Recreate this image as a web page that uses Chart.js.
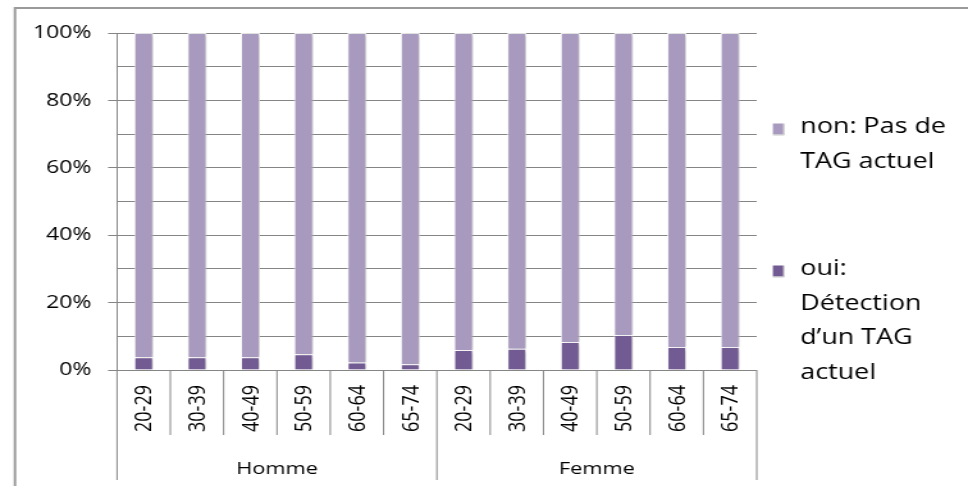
<!DOCTYPE html>
<html>
<head>
<meta charset="utf-8">
<script src="https://cdn.jsdelivr.net/npm/chart.js@4.4.1/dist/chart.umd.min.js"></script>
<style>
  html, body { margin: 0; padding: 0; background: #fff; overflow: hidden; }
  /* the source picture is stretched sideways, so draw narrow and stretch */
  #wrap { width: 756px; height: 486px; transform: scaleX(1.2804); transform-origin: 0 0; }
</style>
</head>
<body>
<div id="wrap"><canvas id="tag-chart"></canvas></div>
<script>
// data (percent)
const ageGroups = ['20-29', '30-39', '40-49', '50-59', '60-64', '65-74'];
const sexGroups = ['Homme', 'Femme'];
const ouiValues = [3.8, 3.8, 3.8, 4.7, 2.2, 1.7, 5.9, 6.3, 8.3, 10.4, 6.8, 6.8];
const nonValues = [96.2, 96.2, 96.2, 95.3, 97.8, 98.3, 94.1, 93.7, 91.7, 89.6, 93.2, 93.2];
const legendLines = [
  ['oui:', 'Détection', 'd’un TAG', 'actuel'],
  ['non: Pas de', 'TAG actuel']
];
const yTicks = [0, 20, 40, 60, 80, 100];

const labels = sexGroups.flatMap(() => ageGroups);
const FONT = '"Open Sans", sans-serif';
const LINE = '#858585';
const TEXT = '#000';

// Frame around the slide picture
const framePlugin = {
  id: 'frame',
  beforeDraw(chart) {
    const c = chart.ctx;
    c.save();
    c.strokeStyle = '#9a9a9a';
    c.lineWidth = 2;
    c.beginPath();
    c.moveTo(11.7, 490);
    c.lineTo(11.7, 8);
    c.lineTo(chart.width + 5, 8);
    c.stroke();
    c.restore();
  }
};

// Soft shadow behind the bars
const shadowPlugin = {
  id: 'barShadow',
  beforeDatasetsDraw(chart) {
    const c = chart.ctx;
    c.save();
    c.shadowColor = 'rgba(0,0,0,0.22)';
    c.shadowBlur = 4;
    c.shadowOffsetX = 2;
    c.shadowOffsetY = 1;
  },
  afterDatasetsDraw(chart) {
    chart.ctx.restore();
  }
};

// Two level category axis under the plot
const groupAxisPlugin = {
  id: 'groupAxis',
  afterDraw(chart) {
    const c = chart.ctx;
    const xs = chart.scales.x;
    const area = chart.chartArea;
    const n = labels.length;
    const per = ageGroups.length;
    const edge = i => i === 0 ? area.left : i === n ? area.right
      : (xs.getPixelForValue(i - 1) + xs.getPixelForValue(i)) / 2;

    c.save();
    c.strokeStyle = LINE;
    c.lineWidth = 1;
    for (let i = 0; i <= n; i++) {
      const x = edge(i);
      c.beginPath();
      c.moveTo(x, area.bottom);
      c.lineTo(x, i % per === 0 ? 480 : 435);
      c.stroke();
    }

    // rotated age labels, clipped at the bottom of their row
    c.beginPath();
    c.rect(area.left, area.bottom, area.right - area.left, 435 - area.bottom);
    c.clip();
    c.fillStyle = TEXT;
    c.font = '18px ' + FONT;
    c.textAlign = 'right';
    c.textBaseline = 'middle';
    labels.forEach((lab, i) => {
      c.save();
      c.translate(xs.getPixelForValue(i) + 1, area.bottom + 15);
      c.rotate(-Math.PI / 2);
      c.fillText(lab, 0, 0);
      c.restore();
    });
    c.restore();

    c.save();
    c.fillStyle = TEXT;
    c.font = '17px ' + FONT;
    c.textAlign = 'center';
    c.textBaseline = 'middle';
    sexGroups.forEach((g, k) => {
      const mid = (edge(k * per) + edge((k + 1) * per)) / 2;
      c.fillText(g, mid, 469);
    });
    c.restore();
  }
};

// Legend on the right, wrapped like the original
const legendPlugin = {
  id: 'wrapLegend',
  afterDraw(chart) {
    const c = chart.ctx;
    const x0 = 603.6;
    const tx = 625;
    const firstBase = [275, 133];
    c.save();
    c.font = '21px ' + FONT;
    c.textBaseline = 'alphabetic';
    c.textAlign = 'left';
    chart.data.datasets.forEach((ds, d) => {
      const base = firstBase[d];
      c.fillStyle = ds.backgroundColor;
      c.fillRect(x0, base - 9.5, 8.2, 11);
      c.strokeStyle = '#c8c8c8';
      c.lineWidth = 1;
      c.beginPath();
      c.moveTo(x0 + 8.7, base - 9.5);
      c.lineTo(x0 + 8.7, base + 2);
      c.lineTo(x0, base + 2);
      c.stroke();
      c.fillStyle = TEXT;
      legendLines[d].forEach((t, k) => c.fillText(t, tx, base + k * 34.5));
    });
    c.restore();
  }
};

const ctx = document.getElementById('tag-chart');

new Chart(ctx, {
  type: 'bar',
  data: {
    labels: labels,
    datasets: [{
      label: legendLines[0].join(' '),
      data: ouiValues,
      backgroundColor: '#725a92',
      borderColor: 'rgba(255,255,255,0.85)',
      borderWidth: 1,
      barPercentage: 0.36,
      categoryPercentage: 1
    },
    {
      label: legendLines[1].join(' '),
      data: nonValues,
      backgroundColor: '#a89abf',
      borderColor: 'rgba(255,255,255,0.85)',
      borderWidth: 1,
      barPercentage: 0.36,
      categoryPercentage: 1
    }]
  },
  options: {
    responsive: true,
    maintainAspectRatio: false,
    animation: false,
    layout: {
      padding: { top: 33, bottom: 116, left: 0, right: 165 }
    },
    scales: {
      x: {
        stacked: true,
        display: false
      },
      y: {
        stacked: true,
        min: 0,
        max: 100,
        afterFit(scale) { scale.width = 91.4; },
        ticks: {
          stepSize: 10,
          padding: 13,
          color: TEXT,
          font: { family: FONT, size: 18 },
          callback: v => yTicks.includes(v) ? v + '%' : ''
        },
        grid: {
          color: LINE,
          lineWidth: 1,
          tickLength: 7,
          tickColor: c => c.tick && yTicks.includes(c.tick.value) ? LINE : 'rgba(0,0,0,0)'
        },
        border: { display: true, color: LINE, width: 1 }
      }
    },
    plugins: {
      legend: { display: false },
      tooltip: { enabled: false }
    }
  },
  plugins: [framePlugin, shadowPlugin, groupAxisPlugin, legendPlugin]
});
</script>
</body>
</html>
